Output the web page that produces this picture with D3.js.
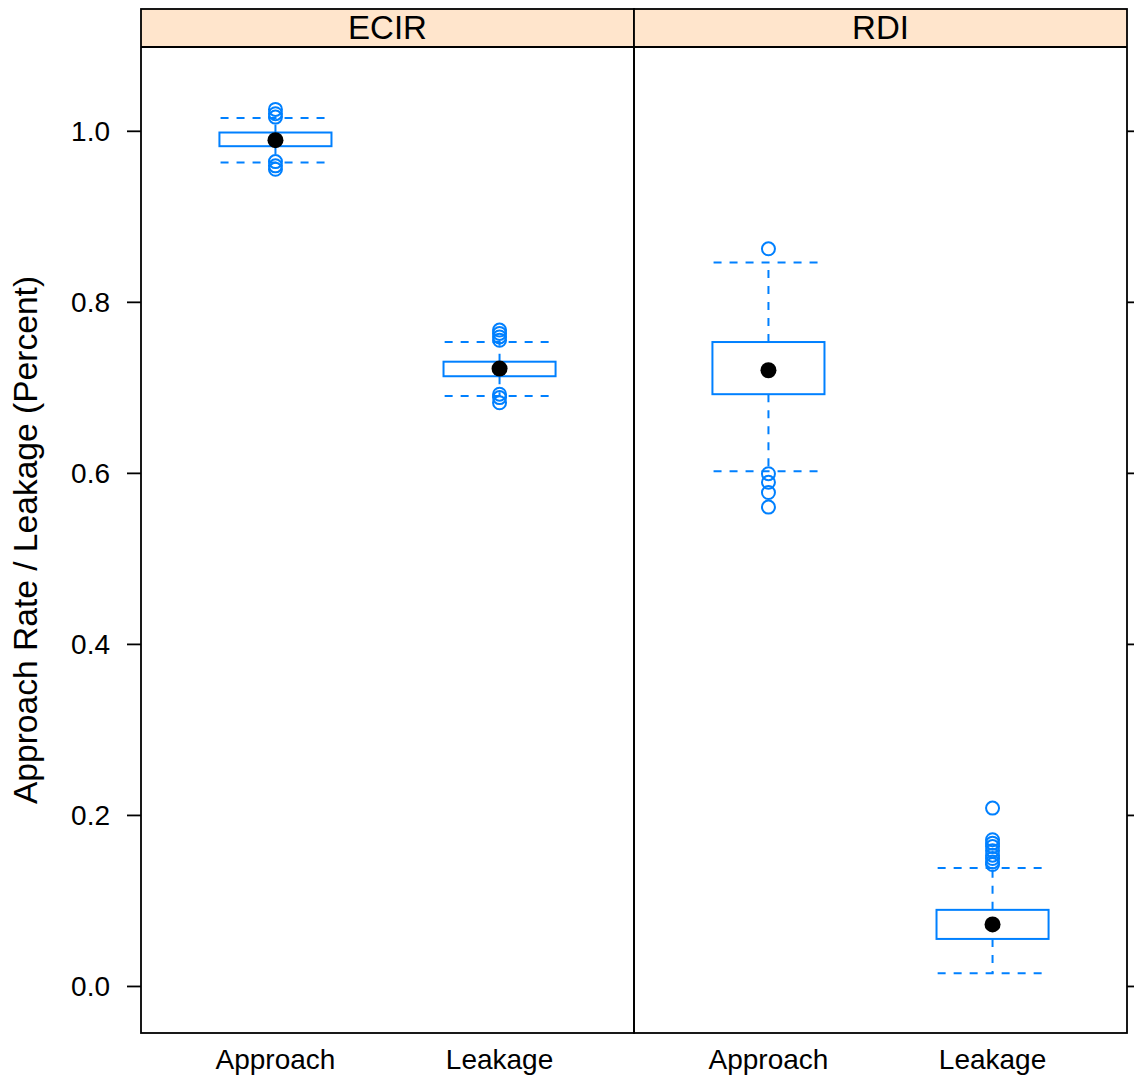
<!DOCTYPE html>
<html>
<head>
<meta charset="utf-8">
<script src="https://cdn.jsdelivr.net/npm/d3@7"></script>
<style>
  body { margin: 0; background: #fff; }
  svg { display: block; font-family: "Liberation Sans", Arial, sans-serif; }
</style>
</head>
<body>
<svg id="chart" width="1134" height="1079"></svg>
<script>
// Panels (strips) and the categories on the x axis inside each panel.
var panels = ["ECIR", "RDI"];
var categories = ["Approach", "Leakage"];

// Box statistics, one entry per panel/category pair:
// ECIR-Approach, ECIR-Leakage, RDI-Approach, RDI-Leakage
var whiskerLow  = [0.963, 0.690, 0.602, 0.015];
var boxLow      = [0.982, 0.713, 0.692, 0.055];
var medians     = [0.989, 0.722, 0.720, 0.072];
var boxHigh     = [0.998, 0.730, 0.753, 0.089];
var whiskerHigh = [1.015, 0.753, 0.846, 0.138];
var outliers = [
  [1.025, 1.020, 1.016, 0.964, 0.959, 0.955],
  [0.767, 0.763, 0.759, 0.755, 0.692, 0.688, 0.682],
  [0.862, 0.599, 0.589, 0.577, 0.560],
  [0.208, 0.171, 0.167, 0.163, 0.158, 0.153, 0.149, 0.145, 0.142]
];
var yTicks = [0.0, 0.2, 0.4, 0.6, 0.8, 1.0];

var BLUE = "#0080ff";
var LEFT = 141, TOP = 9, STRIP_H = 38, PANEL_W = 493, BOTTOM = 1033;

var svg = d3.select("#chart");

var y = d3.scaleLinear()
          .domain([-0.055, 1.098])
          .range([BOTTOM, TOP + STRIP_H]);

// Categories sit at 1 and 2 on a 0.4..2.6 range, like lattice does.
var x = d3.scalePoint()
          .domain(categories)
          .range([0, PANEL_W])
          .padding(0.6);

var boxW = x.step() * 0.5;
var capW = x.step() * 0.49;

panels.forEach(function(p, pi) {
  var x0 = LEFT + pi * PANEL_W;
  var g = svg.append("g").attr("transform", "translate(" + x0 + ",0)");

  // strip
  g.append("rect")
    .attr("x", 0).attr("y", TOP)
    .attr("width", PANEL_W).attr("height", STRIP_H)
    .attr("fill", "#ffe5cc");
  g.append("text")
    .attr("x", PANEL_W / 2).attr("y", TOP + 30)
    .attr("text-anchor", "middle")
    .attr("font-size", 33)
    .text(p);

  categories.forEach(function(c, ci) {
    var k = pi * categories.length + ci;
    var cx = x(c);

    // whiskers (dashed) and caps
    [[boxHigh[k], whiskerHigh[k]], [boxLow[k], whiskerLow[k]]].forEach(function(w) {
      g.append("line")
        .attr("x1", cx).attr("x2", cx)
        .attr("y1", y(w[0])).attr("y2", y(w[1]))
        .attr("stroke", BLUE).attr("stroke-width", 2)
        .attr("stroke-dasharray", "8,8");
      g.append("line")
        .attr("x1", cx - capW / 2).attr("x2", cx + capW / 2)
        .attr("y1", y(w[1])).attr("y2", y(w[1]))
        .attr("stroke", BLUE).attr("stroke-width", 2)
        .attr("stroke-dasharray", "8,8");
    });

    // box
    g.append("rect")
      .attr("x", cx - boxW / 2)
      .attr("y", y(boxHigh[k]))
      .attr("width", boxW)
      .attr("height", y(boxLow[k]) - y(boxHigh[k]))
      .attr("fill", "none")
      .attr("stroke", BLUE).attr("stroke-width", 2);

    // outliers
    g.selectAll(null)
      .data(outliers[k])
      .enter().append("circle")
      .attr("cx", cx)
      .attr("cy", function(d) { return y(d); })
      .attr("r", 6.5)
      .attr("fill", "none")
      .attr("stroke", BLUE).attr("stroke-width", 2);

    // median dot
    g.append("circle")
      .attr("cx", cx).attr("cy", y(medians[k]))
      .attr("r", 8)
      .attr("fill", "#000");

    // x label
    g.append("text")
      .attr("x", cx).attr("y", 1069)
      .attr("text-anchor", "middle")
      .attr("font-size", 28)
      .text(c);
  });

  // panel frame + strip frame
  g.append("rect")
    .attr("x", 0).attr("y", TOP)
    .attr("width", PANEL_W).attr("height", BOTTOM - TOP)
    .attr("fill", "none")
    .attr("stroke", "#000").attr("stroke-width", 1.8);
  g.append("line")
    .attr("x1", 0).attr("x2", PANEL_W)
    .attr("y1", TOP + STRIP_H).attr("y2", TOP + STRIP_H)
    .attr("stroke", "#000").attr("stroke-width", 1.8);
});

// left axis with labels
var leftAxis = svg.append("g").attr("transform", "translate(" + LEFT + ",0)");
leftAxis.call(d3.axisLeft(y).tickValues(yTicks).tickSize(14).tickPadding(17)
  .tickFormat(d3.format(".1f")));
leftAxis.select(".domain").remove();
leftAxis.selectAll(".tick line").attr("stroke-width", 1.8);
leftAxis.selectAll(".tick text")
  .attr("font-size", 28)
  .attr("font-family", "Liberation Sans, Arial, sans-serif")
  .attr("dy", "0.35em");

// right axis, ticks only
var rightAxis = svg.append("g")
  .attr("transform", "translate(" + (LEFT + 2 * PANEL_W) + ",0)");
rightAxis.call(d3.axisRight(y).tickValues(yTicks).tickSize(14).tickFormat(""));
rightAxis.select(".domain").remove();
rightAxis.selectAll(".tick line").attr("stroke-width", 1.8);

// y axis title
svg.append("text")
  .attr("transform", "translate(37," + ((TOP + STRIP_H + BOTTOM) / 2) + ") rotate(-90)")
  .attr("text-anchor", "middle")
  .attr("font-size", 33.6)
  .text("Approach Rate / Leakage (Percent)");
</script>
</body>
</html>
